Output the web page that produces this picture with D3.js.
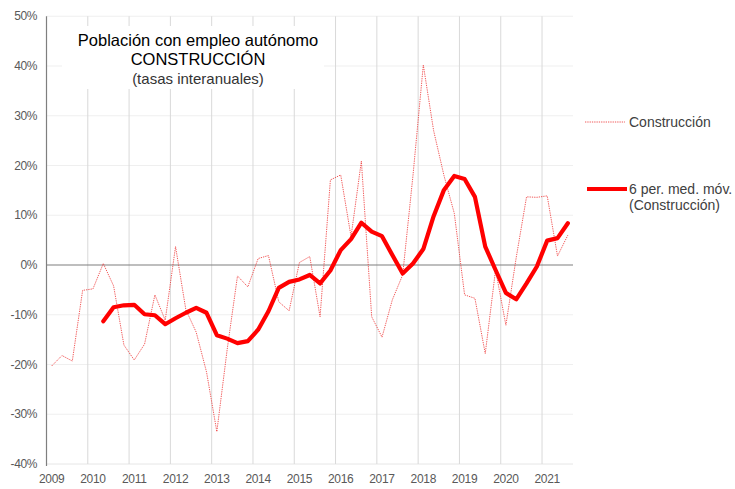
<!DOCTYPE html>
<html>
<head>
<meta charset="utf-8">
<script src="https://cdn.jsdelivr.net/npm/d3@7"></script>
<style>
  html, body { margin: 0; padding: 0; background: #fff; }
  svg { display: block; font-family: "Liberation Sans", Arial, sans-serif; }
</style>
</head>
<body>
<svg id="chart" width="735" height="489"></svg>
<script>
// ---- data ----
const quarters = [
  "2009T1","2009T2","2009T3","2009T4","2010T1","2010T2","2010T3","2010T4",
  "2011T1","2011T2","2011T3","2011T4","2012T1","2012T2","2012T3","2012T4",
  "2013T1","2013T2","2013T3","2013T4","2014T1","2014T2","2014T3","2014T4",
  "2015T1","2015T2","2015T3","2015T4","2016T1","2016T2","2016T3","2016T4",
  "2017T1","2017T2","2017T3","2017T4","2018T1","2018T2","2018T3","2018T4",
  "2019T1","2019T2","2019T3","2019T4","2020T1","2020T2","2020T3","2020T4",
  "2021T1","2021T2","2021T3"
];
const yearLabels = ["2009","2010","2011","2012","2013","2014","2015","2016","2017","2018","2019","2020","2021"];
const construccion = [
  -20.3, -18.2, -19.3, -5.1, -4.8, 0.3, -4.2, -16.1,
  -19.1, -15.9, -6.0, -11.1, 3.7, -9.0, -13.5, -21.5,
  -33.5, -17.0, -2.2, -4.4, 1.3, 1.9, -7.4, -9.2,
  0.5, 1.7, -10.4, 17.1, 18.1, 5.7, 20.9, -10.4,
  -14.5, -7.0, -2.0, 18.0, 40.2, 27.0, 18.0, 10.4,
  -6.0, -6.7, -17.8, -1.0, -12.1, 1.5, 13.7, 13.6,
  13.9, 1.8, 6.0
];
const mediaMovil6 = [
  null, null, null, null, null, -11.3, -8.5, -8.1,
  -8.0, -9.9, -10.1, -11.9, -10.7, -9.6, -8.6, -9.6,
  -14.1, -14.8, -15.7, -15.3, -13.0, -9.3, -4.6, -3.4,
  -2.9, -2.0, -3.7, -1.1, 3.0, 5.2, 8.5, 6.7,
  5.8, 2.0, -1.7, 0.3, 3.2, 9.8, 15.1, 17.9,
  17.3, 13.7, 3.7, -1.0, -5.6, -6.9, -3.7, -0.3,
  4.9, 5.4, 8.4
];
const yTicks = [-40, -30, -20, -10, 0, 10, 20, 30, 40, 50];
const titleLines = ["Población con empleo autónomo", "CONSTRUCCIÓN", "(tasas interanuales)"];
const legendLabels = ["Construcción", "6 per. med. móv.", "(Construcción)"];

// ---- layout ----
const svg = d3.select("#chart");
const plotL = 46.5, plotR = 573, plotT = 16.25, plotB = 464;

const x = d3.scaleBand().domain(quarters).range([plotL, plotR]).paddingInner(0).paddingOuter(0);
const bw = x.bandwidth();
const cx = q => x(q) + bw / 2;
const y = d3.scaleLinear().domain([-40, 50]).range([plotB, plotT]);

// horizontal gridlines
svg.append("g").selectAll("line").data(yTicks.filter(d => d !== 0 && d !== -40)).join("line")
  .attr("x1", plotL).attr("x2", plotR)
  .attr("y1", d => y(d)).attr("y2", d => y(d))
  .attr("stroke", "#efefef").attr("stroke-width", 1);
svg.append("line").attr("x1", plotL).attr("x2", plotR).attr("y1", y(-40)).attr("y2", y(-40))
  .attr("stroke", "#e6e6e6").attr("stroke-width", 1);

// vertical year gridlines
svg.append("g").selectAll("line").data(yearLabels.slice(1)).join("line")
  .attr("x1", d => x(d + "T1")).attr("x2", d => x(d + "T1"))
  .attr("y1", plotT).attr("y2", plotB)
  .attr("stroke", "#d9d9d9").attr("stroke-width", 1);

// white box behind the title
svg.append("rect").attr("x", 62).attr("y", 26).attr("width", 262).attr("height", 63).attr("fill", "#fff");

// zero line
svg.append("line").attr("x1", plotL).attr("x2", plotR).attr("y1", y(0)).attr("y2", y(0))
  .attr("stroke", "#7f7f7f").attr("stroke-width", 1.2);

// left axis line
svg.append("line").attr("x1", plotL).attr("x2", plotL).attr("y1", plotT).attr("y2", plotB + 2)
  .attr("stroke", "#7f7f7f").attr("stroke-width", 1.2);

// y labels
svg.append("g").selectAll("text").data(yTicks).join("text")
  .attr("x", 37).attr("y", d => y(d)).attr("dy", "0.35em")
  .attr("text-anchor", "end").attr("font-size", 12).attr("fill", "#595959")
  .attr("letter-spacing", "-0.4")
  .text(d => d + "%");

// x labels
svg.append("g").selectAll("text").data(yearLabels).join("text")
  .attr("x", d => cx(d + "T1")).attr("y", 479).attr("dy", "0.35em")
  .attr("text-anchor", "middle").attr("font-size", 12).attr("fill", "#595959")
  .attr("letter-spacing", "-0.3")
  .text(d => d);

// thin dotted series
const line = d3.line().defined(d => d.v !== null).x(d => cx(d.q)).y(d => y(d.v));
svg.append("path")
  .datum(quarters.map((q, i) => ({ q, v: construccion[i] })))
  .attr("d", line).attr("fill", "none")
  .attr("stroke", "#ee3333").attr("stroke-width", 0.9)
  .attr("stroke-dasharray", "1.3,1").attr("opacity", 0.9);

// thick moving average
svg.append("path")
  .datum(quarters.map((q, i) => ({ q, v: mediaMovil6[i] })))
  .attr("d", line).attr("fill", "none")
  .attr("stroke", "#ff0000").attr("stroke-width", 4.2)
  .attr("stroke-linejoin", "round").attr("stroke-linecap", "round");

// title
const tx = 198;
svg.append("text").attr("x", tx).attr("y", 45.5).attr("text-anchor", "middle")
  .attr("font-size", 16.5).attr("fill", "#000").text(titleLines[0]);
svg.append("text").attr("x", tx).attr("y", 64.5).attr("text-anchor", "middle")
  .attr("font-size", 16.5).attr("fill", "#000").text(titleLines[1]);
svg.append("text").attr("x", tx).attr("y", 84).attr("text-anchor", "middle")
  .attr("font-size", 15).attr("fill", "#333").text(titleLines[2]);

// legend
const lg = svg.append("g");
lg.append("line").attr("x1", 585).attr("x2", 625).attr("y1", 122).attr("y2", 122)
  .attr("stroke", "#ee3333").attr("stroke-width", 0.9).attr("stroke-dasharray", "1.3,1").attr("opacity", 0.9);
lg.append("text").attr("x", 629).attr("y", 122).attr("dy", "0.35em")
  .attr("font-size", 14).attr("fill", "#404040").text(legendLabels[0]);
lg.append("line").attr("x1", 587).attr("x2", 627).attr("y1", 189).attr("y2", 189)
  .attr("stroke", "#ff0000").attr("stroke-width", 4.2);
lg.append("text").attr("x", 629).attr("y", 189).attr("dy", "0.35em")
  .attr("font-size", 14).attr("fill", "#404040").text(legendLabels[1]);
lg.append("text").attr("x", 629).attr("y", 205.5).attr("dy", "0.35em")
  .attr("font-size", 14).attr("fill", "#404040").text(legendLabels[2]);
</script>
</body>
</html>
